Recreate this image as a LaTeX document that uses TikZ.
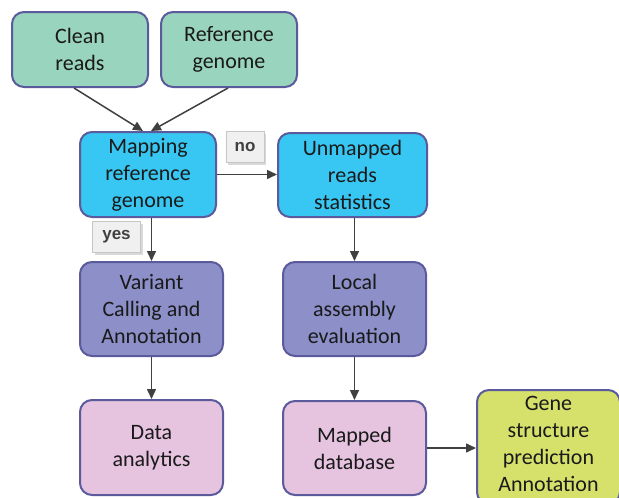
\documentclass[tikz,border=0pt]{standalone}
\usepackage{fontspec}
\setmainfont{Carlito}
\newfontfamily\labfont{Liberation Sans}
\usetikzlibrary{arrows.meta,calc,shadows}
\definecolor{cgreen}{HTML}{99D4BE}
\definecolor{cblue}{HTML}{38C6F2}
\definecolor{cpurple}{HTML}{8C8FC8}
\definecolor{cpink}{HTML}{E6C3DF}
\definecolor{cyellow}{HTML}{D6E16C}
\definecolor{cborder}{HTML}{5A5A9C}
\definecolor{carrow}{HTML}{404040}
\definecolor{ctext}{HTML}{1A1A1A}
\tikzset{
  boxtext/.style={align=center, text=ctext, font=\fontsize{22}{27}\selectfont, inner sep=0pt},
  box/.style={boxtext, draw=cborder, line width=2pt, rounded corners=12pt},
  arr/.style={draw=carrow, line width=1.5pt, -{Triangle[length=10pt,width=9pt]}},
  tag/.style={draw=gray!45, fill=gray!12, line width=0.8pt, font=\labfont\bfseries\fontsize{17}{17}\selectfont,
    text=black!75, minimum height=31pt, inner sep=0pt,
    general shadow={fill=gray!30, shadow xshift=2pt, shadow yshift=-2pt}}
}
\begin{document}
\begin{tikzpicture}[x=1pt,y=-1pt]
\path[use as bounding box, clip] (0,0) rectangle (619,498);
\fill[white] (0,0) rectangle (619,498);
\node[box, fill=cgreen, minimum width=136pt, minimum height=75pt] (clean) at (80,49.5) {Clean\\reads};
\node[box, fill=cgreen, minimum width=136pt, minimum height=75pt] (ref) at (229,49.5) {Reference\\genome};
\node[box, fill=cblue, minimum width=136pt, minimum height=85pt] (map) at (148,174.5) {Mapping\\reference\\genome};
\node[box, fill=cblue, minimum width=149pt, minimum height=84pt] (unm) at (352.5,175) {Unmapped\\reads\\statistics};
\node[box, fill=cpurple, minimum width=143pt, minimum height=94pt] (var) at (151.5,309) {Variant\\Calling and\\Annotation};
\node[box, fill=cpurple, minimum width=143pt, minimum height=94pt] (loc) at (354.5,309) {Local\\assembly\\evaluation};
\node[box, fill=cpink, minimum width=143pt, minimum height=95pt] (data) at (151.5,447.5) {Data\\analytics};
\node[box, fill=cpink, minimum width=143pt, minimum height=94pt] (mdb) at (354.5,448) {Mapped\\database};
\node[box, fill=cyellow, minimum width=143pt, minimum height=114pt] (gene) at (548.5,447) {};
\node[boxtext] (genetext) at (548.5,443.5) {Gene\\structure\\prediction\\Annotation};
\node[tag, minimum width=38pt] (no) at (245,147) {no};
\node[tag, minimum width=48pt] (yes) at (116.5,237) {yes};
\draw[arr] ([xshift=-6pt]clean.south) -- ([xshift=-5pt]map.north);
\draw[arr] ([xshift=-1pt]ref.south) -- ([xshift=3pt]map.north);
\draw[arr] (map.east) -- (map.east -| unm.west);
\draw[arr] (map.south -| var.north) -- (var.north);
\draw[arr] (unm.south -| loc.north) -- (loc.north);
\draw[arr] (var.south) -- (data.north);
\draw[arr] (loc.south) -- (mdb.north);
\draw[arr] (mdb.east) -- (mdb.east -| gene.west);
\end{tikzpicture}
\end{document}
